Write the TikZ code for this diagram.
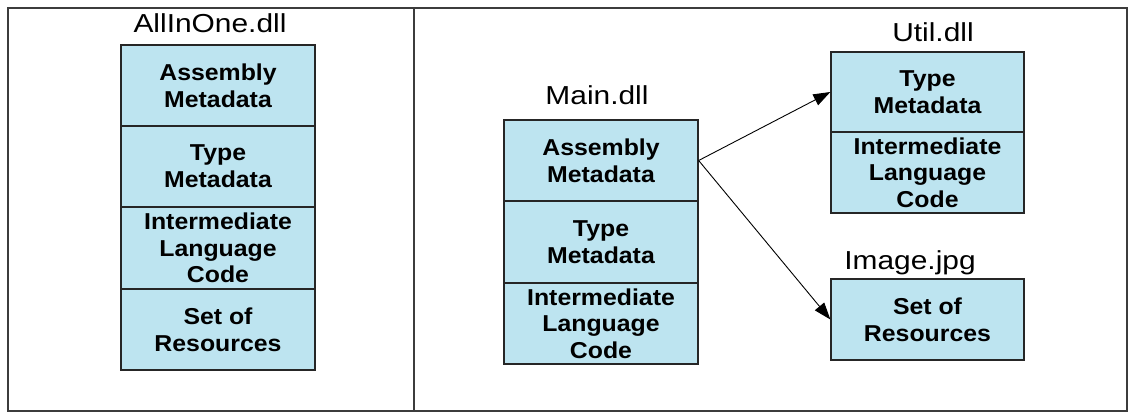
\documentclass[tikz,border=0pt]{standalone}
\usepackage{fontspec}
\setmainfont{Liberation Sans}
\newfontfamily\cellfont[FakeStretch=1.08]{Liberation Sans Bold}
\newfontfamily\titlefont[FakeStretch=1.15]{Liberation Sans}
\usetikzlibrary{arrows.meta}
\definecolor{cellblue}{RGB}{189,228,240}
\definecolor{framegray}{RGB}{60,60,60}
\tikzset{
  cell/.style={draw=black!85, line width=1.3pt, fill=cellblue, minimum width=194pt,
    inner sep=0pt, align=center,
    font=\cellfont\fontsize{23pt}{26.7pt}\selectfont},
  filename/.style={anchor=base, inner sep=0pt, font=\titlefont\fontsize{26pt}{30pt}\selectfont},
  link/.style={line width=0.9pt, -{Triangle[length=17pt,width=12pt]}},
}
\begin{document}
\begin{tikzpicture}[x=1pt,y=-1pt]
\useasboundingbox (0,0) rectangle (1129,412);
% outer frame and divider
\draw[framegray, line width=1.5pt] (8,8) rectangle (1127,411);
\draw[framegray, line width=1.5pt] (414,8) -- (414,411);

% single-file assembly
\node[filename] (allname) at (210,33) {AllInOne.dll};
\node[cell, minimum height=81pt] (a1) at (218,85.5) {Assembly\\Metadata};
\node[cell, minimum height=81pt] (a2) at (218,166.5) {Type\\Metadata};
\node[cell, minimum height=82pt] (a3) at (218,248) {Intermediate\\Language\\Code};
\node[cell, minimum height=81pt] (a4) at (218,329.5) {Set of\\Resources};

% multi-file assembly: main module
\node[filename] (mainname) at (597,104) {Main.dll};
\node[cell, minimum height=81pt] (m1) at (601,160.5) {Assembly\\Metadata};
\node[cell, minimum height=82pt] (m2) at (601,242) {Type\\Metadata};
\node[cell, minimum height=81pt] (m3) at (601,323.5) {Intermediate\\Language\\Code};

% second module
\node[filename] (utilname) at (933,42) {Util.dll};
\node[cell, minimum width=193pt, minimum height=80pt] (u1) at (927.5,92) {Type\\Metadata};
\node[cell, minimum width=193pt, minimum height=81pt] (u2) at (927.5,172.5) {Intermediate\\Language\\Code};

% resource file
\node[filename] (imgname) at (910,269) {Image.jpg};
\node[cell, minimum width=193pt, minimum height=81pt] (r1) at (927.5,319.5) {Set of\\Resources};

% manifest references
\draw[link] (m1.east) -- (u1.west);
\draw[link] (m1.east) -- (r1.west);
\end{tikzpicture}
\end{document}
